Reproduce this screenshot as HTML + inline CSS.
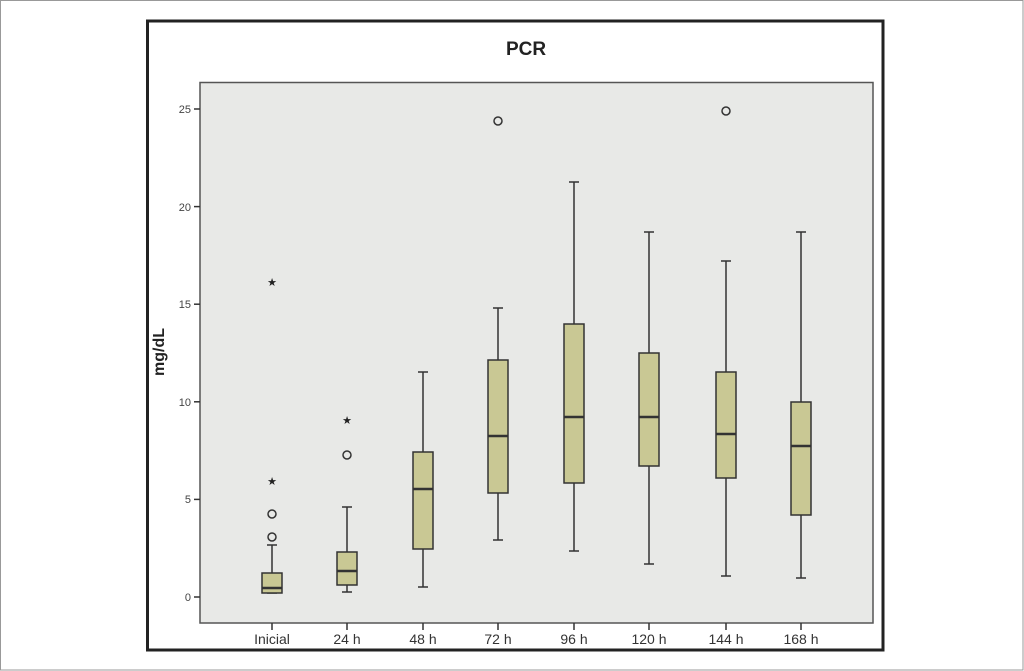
<!DOCTYPE html>
<html><head><style>body{margin:0;background:#fff}svg{display:block}</style></head><body>
<svg width="1024" height="671" xmlns="http://www.w3.org/2000/svg" font-family="Liberation Sans, sans-serif">
<rect x="0.5" y="0.5" width="1022.5" height="669.5" fill="#fff" stroke="#999" stroke-width="1"/>
<rect x="147.5" y="21" width="735.5" height="629" fill="#fff" stroke="#222" stroke-width="3"/>
<text x="526" y="55" font-size="19" font-weight="bold" text-anchor="middle" fill="#222">PCR</text>
<rect x="200" y="82.5" width="673" height="540.5" fill="#e8e9e7" stroke="#555" stroke-width="1.5"/>
<g stroke="#333" stroke-width="1.5">
<line x1="194" y1="109" x2="200" y2="109"/><line x1="194" y1="206.6" x2="200" y2="206.6"/><line x1="194" y1="304.2" x2="200" y2="304.2"/><line x1="194" y1="401.8" x2="200" y2="401.8"/><line x1="194" y1="499.4" x2="200" y2="499.4"/><line x1="194" y1="597" x2="200" y2="597"/>
<line x1="272" y1="623" x2="272" y2="630"/><line x1="347" y1="623" x2="347" y2="630"/><line x1="423" y1="623" x2="423" y2="630"/><line x1="498" y1="623" x2="498" y2="630"/><line x1="574" y1="623" x2="574" y2="630"/><line x1="649" y1="623" x2="649" y2="630"/><line x1="726" y1="623" x2="726" y2="630"/><line x1="801" y1="623" x2="801" y2="630"/>
</g>
<g font-size="11" fill="#444" text-anchor="end">
<text x="191" y="113">25</text><text x="191" y="211">20</text><text x="191" y="308">15</text><text x="191" y="406">10</text><text x="191" y="503">5</text><text x="191" y="601">0</text>
</g>
<g font-size="14" fill="#333" text-anchor="middle">
<text x="272" y="644">Inicial</text><text x="347" y="644">24 h</text><text x="423" y="644">48 h</text><text x="498" y="644">72 h</text><text x="574" y="644">96 h</text><text x="649" y="644">120 h</text><text x="726" y="644">144 h</text><text x="801" y="644">168 h</text>
</g>
<text transform="translate(164,352) rotate(-90)" font-size="16" font-weight="bold" text-anchor="middle" fill="#222">mg/dL</text>
<g stroke="#333" stroke-width="1.5" fill="#c9c894">
<line x1="272" y1="593" x2="272" y2="545"/><line x1="267" y1="545" x2="277" y2="545"/><line x1="267" y1="593" x2="277" y2="593"/>
<rect x="262" y="573" width="20" height="20"/><line x1="262" y1="588" x2="282" y2="588" stroke-width="2.5"/>
<line x1="347" y1="592" x2="347" y2="507"/><line x1="342" y1="507" x2="352" y2="507"/><line x1="342" y1="592" x2="352" y2="592"/>
<rect x="337" y="552" width="20" height="33"/><line x1="337" y1="571" x2="357" y2="571" stroke-width="2.5"/>
<line x1="423" y1="587" x2="423" y2="372"/><line x1="418" y1="372" x2="428" y2="372"/><line x1="418" y1="587" x2="428" y2="587"/>
<rect x="413" y="452" width="20" height="97"/><line x1="413" y1="489" x2="433" y2="489" stroke-width="2.5"/>
<line x1="498" y1="540" x2="498" y2="308"/><line x1="493" y1="308" x2="503" y2="308"/><line x1="493" y1="540" x2="503" y2="540"/>
<rect x="488" y="360" width="20" height="133"/><line x1="488" y1="436" x2="508" y2="436" stroke-width="2.5"/>
<line x1="574" y1="551" x2="574" y2="182"/><line x1="569" y1="182" x2="579" y2="182"/><line x1="569" y1="551" x2="579" y2="551"/>
<rect x="564" y="324" width="20" height="159"/><line x1="564" y1="417" x2="584" y2="417" stroke-width="2.5"/>
<line x1="649" y1="564" x2="649" y2="232"/><line x1="644" y1="232" x2="654" y2="232"/><line x1="644" y1="564" x2="654" y2="564"/>
<rect x="639" y="353" width="20" height="113"/><line x1="639" y1="417" x2="659" y2="417" stroke-width="2.5"/>
<line x1="726" y1="576" x2="726" y2="261"/><line x1="721" y1="261" x2="731" y2="261"/><line x1="721" y1="576" x2="731" y2="576"/>
<rect x="716" y="372" width="20" height="106"/><line x1="716" y1="434" x2="736" y2="434" stroke-width="2.5"/>
<line x1="801" y1="578" x2="801" y2="232"/><line x1="796" y1="232" x2="806" y2="232"/><line x1="796" y1="578" x2="806" y2="578"/>
<rect x="791" y="402" width="20" height="113"/><line x1="791" y1="446" x2="811" y2="446" stroke-width="2.5"/>
</g>
<g stroke="#333" stroke-width="1.5" fill="none">
<circle cx="272" cy="537" r="4"/><circle cx="272" cy="514" r="4"/><circle cx="347" cy="455" r="4"/><circle cx="498" cy="121" r="4"/><circle cx="726" cy="111" r="4"/>
</g>
<g font-size="11" fill="#222" text-anchor="middle">
<text x="272" y="485">★</text><text x="272" y="286">★</text><text x="347" y="424">★</text>
</g>
</svg>
</body></html>
